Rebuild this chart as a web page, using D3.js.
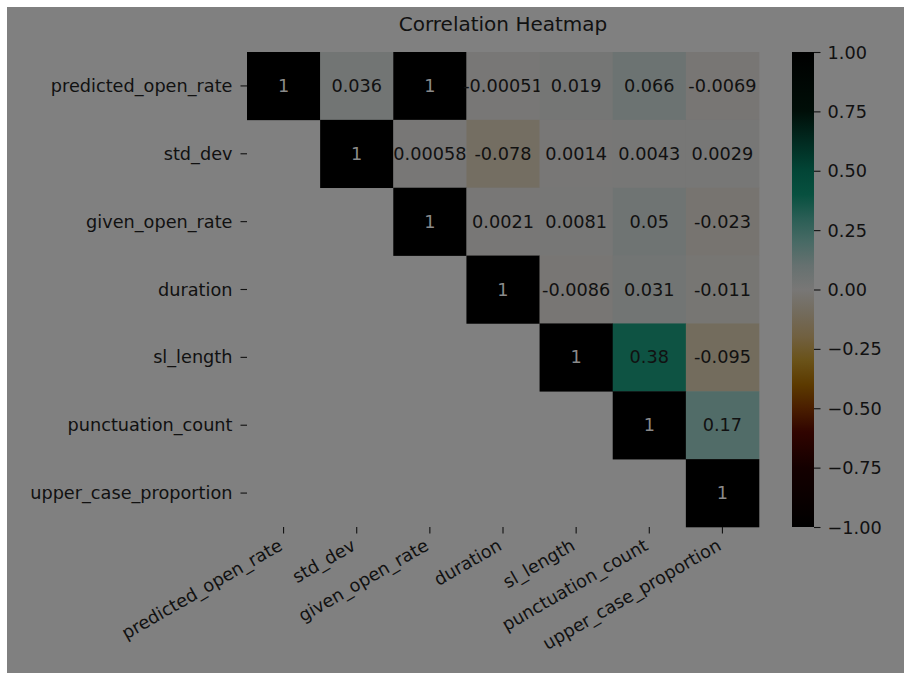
<!DOCTYPE html>
<html lang="en">
<head>
  <meta charset="UTF-8">
  <title>Correlation Heatmap</title>
  <script src="https://cdnjs.cloudflare.com/ajax/libs/d3/7.8.5/d3.min.js"></script>
  <style>
    html, body { margin: 0; background: #ffffff; overflow: hidden; }
    svg { display: block; }
    svg text { font-family: "DejaVu Sans", sans-serif; }
    .axis path.domain { display: none; }
    .axis line { stroke: #111; stroke-width: 1.1px; }
    .axis text { fill: #111; font-size: 17.7px; }
  </style>
</head>
<body>
  <div id="chart"></div>
  <script>
    // variable names (rows and columns are the same)
    var labels = ["predicted_open_rate", "std_dev", "given_open_rate", "duration",
                  "sl_length", "punctuation_count", "upper_case_proportion"];

    // upper triangle of the correlation matrix, null = masked
    var corrRows = [
      [1, 0.036, 1, -0.00051, 0.019, 0.066, -0.0069],
      [null, 1, 0.00058, -0.078, 0.0014, 0.0043, 0.0029],
      [null, null, 1, 0.0021, 0.0081, 0.05, -0.023],
      [null, null, null, 1, -0.0086, 0.031, -0.011],
      [null, null, null, null, 1, 0.38, -0.095],
      [null, null, null, null, null, 1, 0.17],
      [null, null, null, null, null, null, 1]
    ];

    // colour map as seen through the grey overlay
    var cmapStops  = [-1, -0.75, -0.6, -0.5, -0.4, -0.3, -0.2, -0.1, 0, 0.1, 0.2, 0.3, 0.4, 0.5, 0.625, 0.75, 1];
    var cmapColors = ["#000000", "#140000", "#300400", "#4a1e00", "#5c3a00", "#6a5218", "#716040", "#736b5c",
                      "#787776", "#667170", "#486a65", "#2a5e55", "#07503f", "#024536", "#012a20", "#000e08", "#000000"];
    var cbarTicks = [-1, -0.75, -0.5, -0.25, 0, 0.25, 0.5, 0.75, 1];

    var W = 904, H = 673;
    var hm = {left: 247, top: 52, right: 759, bottom: 527};
    var cb = {left: 792, right: 814};

    var svg = d3.select("#chart").append("svg")
        .attr("width", W)
        .attr("height", H);

    // grey backdrop
    svg.append("rect")
        .attr("x", 7).attr("y", 7)
        .attr("width", W - 7).attr("height", H - 7)
        .attr("fill", "#808080");

    var x = d3.scaleBand().domain(labels).range([hm.left, hm.right]);
    var y = d3.scaleBand().domain(labels).range([hm.top, hm.bottom]);
    var color = d3.scaleLinear().domain(cmapStops).range(cmapColors).interpolate(d3.interpolateRgb).clamp(true);

    var annotFmt = d3.formatLocale({decimal: ".", thousands: ",", grouping: [3], currency: ["", ""], minus: "-"}).format(".2~g");

    var cells = [];
    corrRows.forEach(function(row, i) {
      row.forEach(function(v, j) {
        if (v !== null) cells.push({row: labels[i], col: labels[j], value: v});
      });
    });

    var cell = svg.append("g").selectAll("g")
        .data(cells)
      .enter().append("g");

    cell.append("rect")
        .attr("x", function(d) { return x(d.col); })
        .attr("y", function(d) { return y(d.row); })
        .attr("width", x.bandwidth() + 0.3)
        .attr("height", y.bandwidth() + 0.3)
        .attr("fill", function(d) { return color(d.value); });

    cell.append("text")
        .attr("x", function(d) { return x(d.col) + x.bandwidth() / 2; })
        .attr("y", function(d) { return y(d.row) + y.bandwidth() / 2; })
        .attr("text-anchor", "middle")
        .attr("dominant-baseline", "central")
        .style("font-size", "17.7px")
        .attr("fill", function(d) { return Math.abs(d.value) > 0.6 ? "#8a8a8a" : "#111"; })
        .text(function(d) { return annotFmt(d.value); });

    // y axis
    svg.append("g")
        .attr("class", "axis")
        .attr("transform", "translate(" + hm.left + ",0)")
        .call(d3.axisLeft(y).tickSize(6.5).tickPadding(8))
      .selectAll("text")
        .attr("dy", null)
        .attr("dominant-baseline", "central");

    // x axis, labels rotated 30 degrees
    var xAxis = svg.append("g")
        .attr("class", "axis")
        .attr("transform", "translate(0," + hm.bottom + ")")
        .call(d3.axisBottom(x).tickSize(6.5));
    xAxis.selectAll("text")
        .attr("y", 0).attr("dy", null)
        .attr("text-anchor", "end")
        .attr("transform", "translate(0,22) rotate(-30)");

    svg.append("text")
        .attr("x", (hm.left + hm.right) / 2)
        .attr("y", 31)
        .attr("text-anchor", "middle")
        .attr("fill", "#111")
        .style("font-size", "20px")
        .text("Correlation Heatmap");

    // colour bar
    var cy = d3.scaleLinear().domain([-1, 1]).range([hm.bottom, hm.top]);
    var grad = svg.append("defs").append("linearGradient")
        .attr("id", "cbar")
        .attr("x1", 0).attr("y1", 1).attr("x2", 0).attr("y2", 0);
    grad.selectAll("stop")
        .data(cmapStops)
      .enter().append("stop")
        .attr("offset", function(d) { return (d + 1) / 2; })
        .attr("stop-color", function(d) { return color(d); });

    svg.append("rect")
        .attr("x", cb.left).attr("y", hm.top)
        .attr("width", cb.right - cb.left).attr("height", hm.bottom - hm.top)
        .attr("fill", "url(#cbar)");

    svg.append("g")
        .attr("class", "axis")
        .attr("transform", "translate(" + cb.right + ",0)")
        .call(d3.axisRight(cy).tickValues(cbarTicks).tickFormat(d3.format(".2f")).tickSize(6.5).tickPadding(7))
      .selectAll("text")
        .attr("dy", null)
        .attr("dominant-baseline", "central");
  </script>
</body>
</html>
